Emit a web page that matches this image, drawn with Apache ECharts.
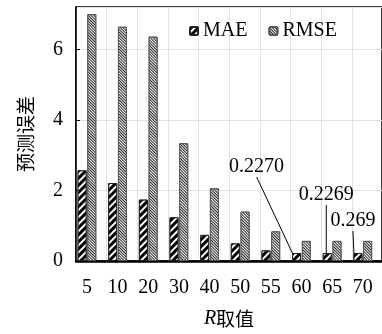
<!DOCTYPE html>
<html>
<head>
<meta charset="utf-8">
<script src="https://cdn.jsdelivr.net/npm/echarts@6/dist/echarts.min.js"></script>
<style>
html, body { margin: 0; padding: 0; background: #fff; }
#main { width: 382px; height: 334px; }
</style>
</head>
<body>
<div id="main"></div>
<script>
// R取值 分类
var categories = ['5', '10', '20', '30', '40', '50', '55', '60', '65', '70'];
var maeValues = [2.57, 2.21, 1.74, 1.24, 0.74, 0.50, 0.30, 0.2270, 0.2269, 0.2269];
var rmseValues = [7.0, 6.64, 6.36, 3.34, 2.06, 1.40, 0.84, 0.57, 0.57, 0.57];
// 标注
var noteIndex = [7, 8, 9];
var noteText = ['0.2270', '0.2269', '0.269'];

var serif = 'Liberation Serif';
var noteShift = [[-40, -71], [-1, -43], [-5, -17]];

var myChart = echarts.init(document.getElementById('main'));

var maeData = maeValues.map(function (v, i) {
  var k = noteIndex.indexOf(i);
  var item = { value: [i, v] };
  if (k >= 0) {
    item.label = { show: true, formatter: noteText[k] };
    item.labelLine = { show: true, lineStyle: { color: '#000', width: 1 } };
  }
  return item;
});
var rmseData = rmseValues.map(function (v, i) { return [i, v]; });
var catIdx = categories.map(function (c, i) { return i; });

myChart.setOption({
  animation: false,
  backgroundColor: '#fff',
  grid: {
    left: 76, top: 7, right: -2, bottom: 69,
    show: true, borderColor: '#000', borderWidth: 1.5
  },
  legend: {
    left: 189, top: 21,
    itemWidth: 8, itemHeight: 8, itemGap: 21,
    padding: 0,
    textStyle: { fontFamily: serif, fontSize: 20, color: '#000' },
    data: ['MAE', 'RMSE']
  },
  xAxis: [{
    type: 'value',
    min: -0.357, max: 9.627,
    axisLine: { show: true, lineStyle: { color: '#000', width: 2.5 } },
    axisTick: { show: false },
    splitLine: { show: false },
    axisLabel: {
      customValues: catIdx,
      margin: 17,
      fontFamily: serif, fontSize: 20, color: '#000',
      formatter: function (v) { return categories[Math.round(v)]; }
    },
    name: '{r|R}{c|取值}',
    nameLocation: 'middle',
    nameGap: 48,
    nameTextStyle: {
      rich: {
        r: { fontFamily: serif, fontStyle: 'italic', fontSize: 20, color: '#000' },
        c: { fontFamily: 'Noto Sans CJK SC', fontSize: 19, color: '#000' }
      }
    }
  }, {
    // 竖向网格线
    type: 'value',
    min: 0, max: 9.984, interval: 1,
    axisLine: { show: false },
    axisTick: { show: false },
    axisLabel: { show: false },
    splitLine: { show: true, lineStyle: { color: '#e2e2e2', width: 1 } }
  }],
  yAxis: {
    type: 'value',
    min: 0, max: 7.2, interval: 2,
    axisLine: { show: true, onZero: false, lineStyle: { color: '#000', width: 1.5 } },
    axisTick: { show: true, inside: true, length: 4, lineStyle: { color: '#000' } },
    splitLine: { show: true, lineStyle: { color: '#e2e2e2', width: 1 } },
    axisLabel: {
      showMaxLabel: false,
      margin: 13,
      fontFamily: serif, fontSize: 20, color: '#000'
    },
    name: '预测误差',
    nameLocation: 'middle',
    nameGap: 41,
    nameTextStyle: { fontFamily: 'Noto Sans CJK SC', fontSize: 19, color: '#000' }
  },
  series: [{
    name: 'MAE',
    type: 'bar',
    xAxisIndex: 0,
    barWidth: 9,
    barGap: '8%',
    data: maeData,
    itemStyle: {
      color: '#fff',
      borderColor: '#222',
      borderWidth: 1,
      decal: {
        symbol: 'rect', symbolSize: 1,
        dashArrayX: [1, 0], dashArrayY: [3, 2],
        rotation: -Math.PI / 4,
        color: '#000', backgroundColor: '#fff'
      }
    },
    label: {
      show: false,
      position: 'top',
      fontFamily: serif, fontSize: 20, color: '#000'
    },
    labelLayout: function (p) {
      var k = noteIndex.indexOf(p.dataIndex);
      if (k < 0) return {};
      return { dx: noteShift[k][0], dy: noteShift[k][1] };
    }
  }, {
    name: 'RMSE',
    type: 'bar',
    xAxisIndex: 0,
    barWidth: 9,
    barGap: '8%',
    data: rmseData,
    itemStyle: {
      color: '#fff',
      borderColor: '#555',
      borderWidth: 1,
      decal: {
        symbol: 'rect', symbolSize: 1,
        dashArrayX: [1, 0], dashArrayY: [1, 1],
        rotation: Math.PI / 4,
        color: '#222', backgroundColor: '#fff'
      }
    }
  }]
});
</script>
</body>
</html>
